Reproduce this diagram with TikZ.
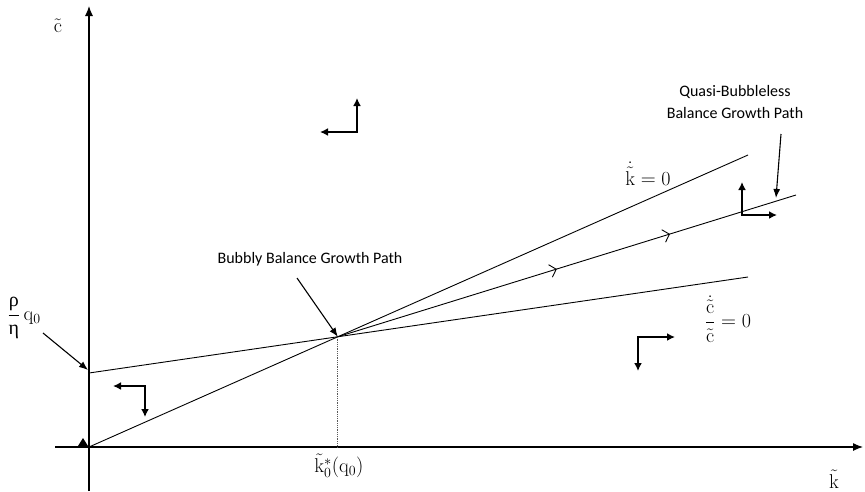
\documentclass[tikz,border=0pt]{standalone}
\usepackage{fontspec}
\usepackage{amsmath}
\newfontfamily\gr{Liberation Serif}
\newfontfamily\calib{Carlito}
\usetikzlibrary{arrows.meta,intersections,decorations.markings}
\begin{document}
\begin{tikzpicture}[x=1pt,y=-1pt,
  axisline/.style={line width=1.1pt,-{Latex[length=10pt,width=8pt]}},
  curve/.style={line width=0.9pt},
  dirarrow/.style={line width=2.2pt,{Latex[length=8pt,width=8pt]}-{Latex[length=8pt,width=8pt]}},
  pointer/.style={line width=1.1pt,-{Latex[length=9pt,width=7pt]}},
  mathlab/.style={font=\fontsize{20}{24}\selectfont,inner sep=0pt},
  sanslab/.style={font=\calib\fontsize{16}{22}\selectfont,inner sep=0pt,align=center},
  midarrows/.style={decoration={markings,
     mark=at position 0.478 with {\arrow{Straight Barb[length=6pt,width=13pt,line width=0.9pt]}},
     mark=at position 0.725 with {\arrow{Straight Barb[length=6pt,width=13pt,line width=0.9pt]}}},
     postaction={decorate}}]
\useasboundingbox (0,0) rectangle (865,491);
% axes
\coordinate (xs) at (55,447);
\coordinate (xe) at (863,447);
\coordinate (ys) at (89,491);
\coordinate (ye) at (89,6);
\coordinate (O) at (89,447);
\draw[axisline] (xs) -- (xe);
\draw[axisline] (ys) -- (ye);
% lines
\coordinate (A) at (89,373);
\coordinate (Kend) at (748,155);
\coordinate (Cend) at (748,277);
\coordinate (Bend) at (796,195);
\draw[curve,name path=kline] (O) -- (Kend);
\draw[curve,name path=cline] (A) -- (Cend);
\path[name intersections={of=kline and cline,by=E}];
\draw[curve,midarrows] (E) -- (Bend);
\coordinate (Ebase) at (E |- O);
\draw[line width=0.8pt,densely dotted,gray!70!black] (E) -- (Ebase);
% small arrowhead at origin
\fill (83,438) -- (78,446) -- (88,446) -- cycle;
% direction arrows
\coordinate (d1a) at (320,132); \coordinate (d1b) at (357,132); \coordinate (d1c) at (357,98);
\draw[dirarrow] (d1a) -- (d1b) -- (d1c);
\coordinate (d2a) at (113,386); \coordinate (d2b) at (145,386); \coordinate (d2c) at (145,417);
\draw[dirarrow] (d2a) -- (d2b) -- (d2c);
\coordinate (d3a) at (742,182); \coordinate (d3b) at (742,215); \coordinate (d3c) at (777,215);
\draw[dirarrow] (d3a) -- (d3b) -- (d3c);
\coordinate (d4a) at (675,337); \coordinate (d4b) at (638,337); \coordinate (d4c) at (638,371);
\draw[dirarrow] (d4a) -- (d4b) -- (d4c);
% labels
\node[mathlab] (ylab) at (58,26) {$\tilde{\mathrm{c}}$};
\node[mathlab] (xlab) at (834,479) {$\tilde{\mathrm{k}}$};
\node[mathlab] (k0lab) at (339,466) {$\tilde{\mathrm{k}}_{\mathrm{0}}^{*}(\mathrm{q}_{\mathrm{0}})$};
\node[mathlab] (rholab) at (24,318) {$\dfrac{\mbox{\gr ρ}}{\mbox{\gr η}}\,\mathrm{q}_{\mathrm{0}}$};
\node[mathlab] (kdot) at (648,174) {$\dot{\tilde{\mathrm{k}}}=\mathrm{0}$};
\node[mathlab] (cdot) at (728,319) {$\dfrac{\dot{\tilde{\mathrm{c}}}}{\tilde{\mathrm{c}}}=\mathrm{0}$};
\node[sanslab] (bub) at (310,259) {Bubbly Balance Growth Path};
\node[sanslab] (quasi) at (735,102) {Quasi-Bubbleless\\Balance Growth Path};
% pointers
\coordinate (p1s) at (43,333); \coordinate (p1e) at (88,370);
\draw[pointer] (p1s) -- (p1e);
\coordinate (p2s) at (297,278);
\draw[pointer] (p2s) -- (E);
\coordinate (p3s) at (781,134); \coordinate (p3e) at (776,198);
\draw[pointer] (p3s) -- (p3e);
\end{tikzpicture}
\end{document}
